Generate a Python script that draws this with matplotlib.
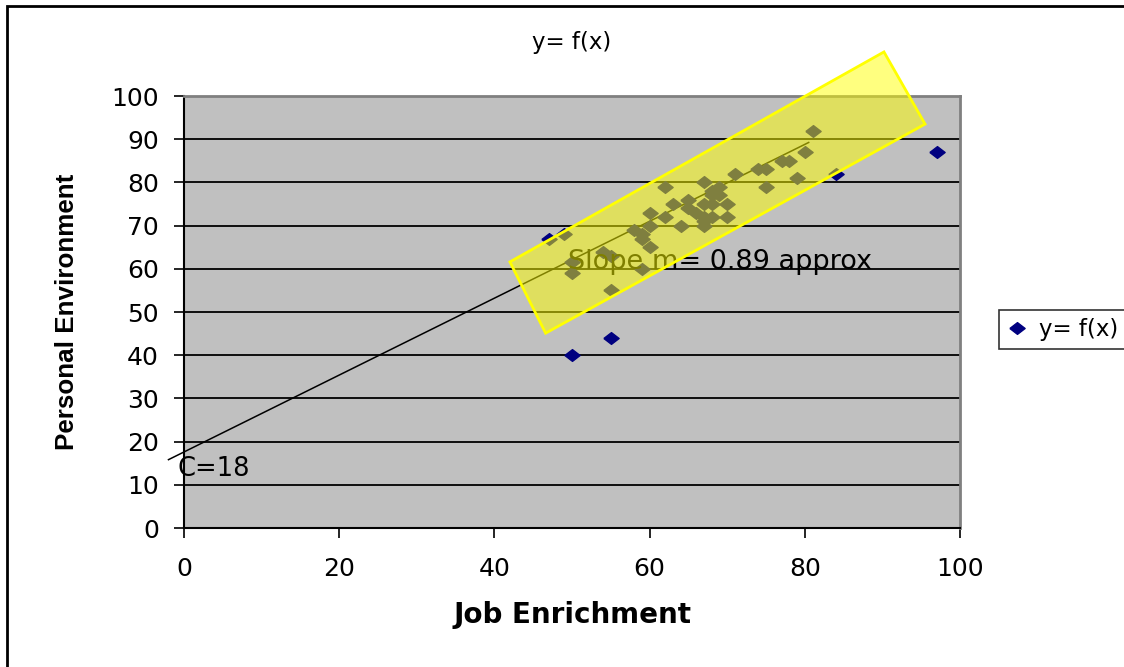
import numpy as np
import matplotlib
matplotlib.use('Agg')
import matplotlib.pyplot as plt
from matplotlib.patches import Polygon, Rectangle

plt.rcParams['font.family'] = ['Liberation Sans', 'DejaVu Sans']
wide = 'DejaVu Sans'

# Job Enrichment (x) vs Personal Environment (y)
job_enrichment = [47, 49, 50, 50, 50, 55, 54, 55, 55, 58, 59, 59, 59, 60, 60,
                  60, 62, 62, 63, 64, 65, 65, 66, 67, 67, 67, 67, 67, 68, 68,
                  68, 68, 69, 69, 70, 70, 71, 74, 75, 75, 77, 78, 79, 80, 81,
                  84, 97]
personal_env = [67, 68, 61.5, 59, 40, 44, 64, 63, 55, 69, 68, 67, 60, 65, 73,
                70, 79, 72, 75, 70, 76, 74, 73, 80, 75, 72, 71, 70, 78, 77,
                75, 72, 79, 77, 75, 72, 82, 83, 83, 79, 85, 85, 81, 87, 92,
                82, 87]

# hand drawn trend line and highlight box (data units)
slope = 0.89
intercept = 17.6
line_x = [-2.0, 80.5]
box_x = [42.0, 46.6, 95.5, 90.2]
box_y = [61.6, 45.1, 93.5, 110.2]

# wide diamond like the Excel marker
diamond = [(-1.3, 0), (0, 1), (1.3, 0), (0, -1), (-1.3, 0)]

fig = plt.figure(figsize=(11.24, 6.67), dpi=100)
ax = fig.add_axes([184 / 1124, 139 / 667, 776 / 1124, 432 / 667])
ax.set_facecolor('#c0c0c0')

ax.set_xlim(0, 100)
ax.set_ylim(0, 100)
ax.set_xticks(np.arange(0, 101, 20))
ax.set_yticks(np.arange(0, 101, 10))
ax.yaxis.grid(True, color='black', lw=1.3)
ax.set_axisbelow(True)
ax.tick_params(axis='both', direction='out', length=7, width=1.2,
               labelsize=18, colors='black')
ax.tick_params(axis='x', pad=14)
ax.tick_params(axis='y', pad=11)
for lbl in ax.get_xticklabels() + ax.get_yticklabels():
    lbl.set_family(wide)
for side in ['top', 'right']:
    ax.spines[side].set_color('#808080')
    ax.spines[side].set_linewidth(2)
for side in ['left', 'bottom']:
    ax.spines[side].set_color('black')
    ax.spines[side].set_linewidth(1.5)

ax.plot(job_enrichment, personal_env, ls='none', marker=diamond, ms=11,
        color='#000080', label='y= f(x)', zorder=3)

lx = np.array(line_x)
ax.plot(lx, intercept + slope * lx, color='black', lw=1.1, clip_on=False,
        zorder=2)

ax.text(49.5, 61.5, 'Slope m= 0.89 approx', fontsize=19.5, va='center',
        ha='left', zorder=4, family=wide)
ax.text(-0.9, 13.7, 'C=18', fontsize=18.5, va='center', ha='left',
        clip_on=False, zorder=4, family=wide)

box = Polygon(list(zip(box_x, box_y)), closed=True, facecolor=(1, 1, 0, 0.5),
              edgecolor='yellow', lw=2, clip_on=False, zorder=5)
ax.add_patch(box)

ax.set_title('y= f(x)', fontsize=16.5, y=1 + 53 / 432, va='center', pad=0,
             family=wide)
ax.set_xlabel('Job Enrichment', fontsize=20, fontweight='bold', va='top',
              family=wide)
ax.set_ylabel('Personal Environment', fontsize=18.7, fontweight='bold',
              va='bottom')
ax.xaxis.set_label_coords(0.5, -73 / 432)
ax.yaxis.set_label_coords(-105 / 776, 0.5)

leg = ax.legend(loc='center left', bbox_to_anchor=(1.05, 0.46),
                prop={'family': wide, 'size': 16.5},
                frameon=True, fancybox=False, handlelength=0.9,
                handletextpad=0.5, borderpad=0.35, borderaxespad=0)
leg.get_frame().set_edgecolor('black')
leg.get_frame().set_linewidth(1.2)

fig.patches.append(Rectangle((7 / 1124, -0.1), 1.2, 1.1 - 6 / 667,
                             transform=fig.transFigure, fill=False,
                             edgecolor='black', lw=2))

fig.savefig('out.png', dpi=100)
